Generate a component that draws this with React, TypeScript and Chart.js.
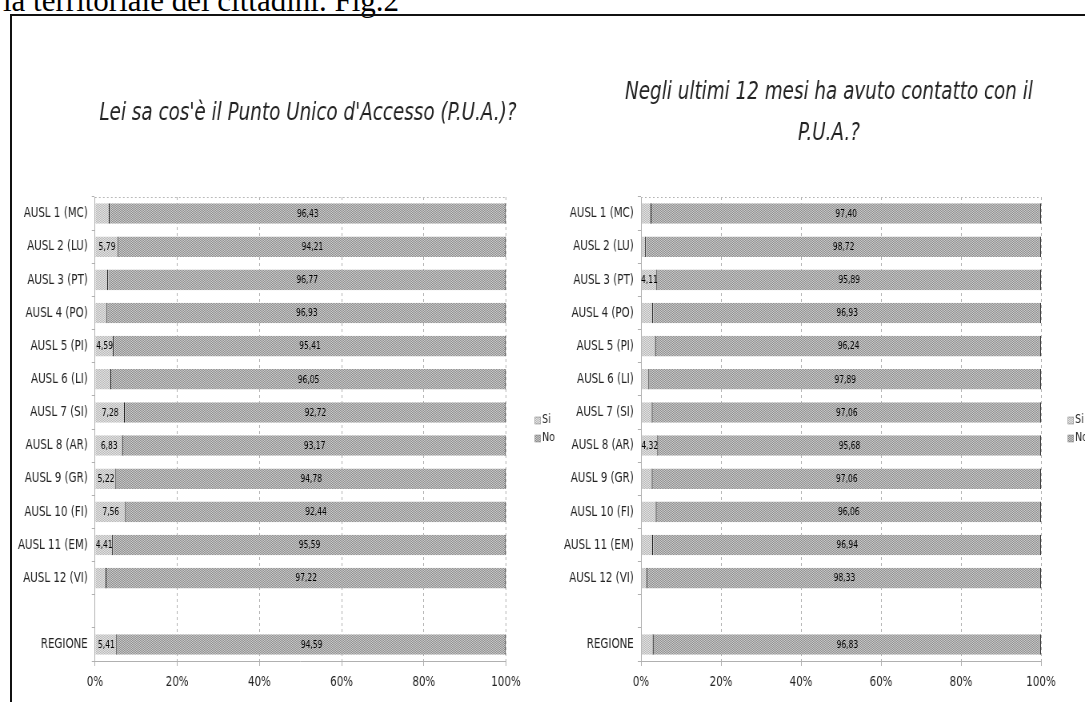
import React, { useEffect, useRef } from "react";
import { Chart, registerables } from "chart.js";

Chart.register(...registerables);

// ---- data ----
const categories = [
  "AUSL 1 (MC)",
  "AUSL 2 (LU)",
  "AUSL 3 (PT)",
  "AUSL 4 (PO)",
  "AUSL 5 (PI)",
  "AUSL 6 (LI)",
  "AUSL 7 (SI)",
  "AUSL 8 (AR)",
  "AUSL 9 (GR)",
  "AUSL 10 (FI)",
  "AUSL 11 (EM)",
  "AUSL 12 (VI)",
  "",
  "REGIONE",
];

const seriesNames = ["Si", "No"];

// "Lei sa cos'è il Punto Unico d'Accesso (P.U.A.)?"
const knowsSi = [3.57, 5.79, 3.23, 3.07, 4.59, 3.95, 7.28, 6.83, 5.22, 7.56, 4.41, 2.78, null, 5.41];
const knowsNo = [96.43, 94.21, 96.77, 96.93, 95.41, 96.05, 92.72, 93.17, 94.78, 92.44, 95.59, 97.22, null, 94.59];

// "Negli ultimi 12 mesi ha avuto contatto con il P.U.A.?"
const contactSi = [2.6, 1.28, 4.11, 3.07, 3.76, 2.11, 2.94, 4.32, 2.94, 3.94, 3.06, 1.67, null, 3.17];
const contactNo = [97.4, 98.72, 95.89, 96.93, 96.24, 97.89, 97.06, 95.68, 97.06, 96.06, 96.94, 98.33, null, 96.83];

const percentTicks = [0, 20, 40, 60, 80, 100];

const knowsTitle = ["Lei sa cos'è il Punto Unico d'Accesso (P.U.A.)?"];
const contactTitle = ["Negli ultimi 12 mesi ha avuto contatto con il", "P.U.A.?"];

const headerText = "la territoriale dei cittadini. Fig.2";

// Shares below this are left unlabelled (the segment is too narrow for text).
const MIN_LABELED_SHARE = 4;

// The canvases are drawn wider than they are shown, which gives the
// horizontally condensed lettering of the printed figure.
const SQUEEZE_X = 0.8;

const FONT = "'DejaVu Sans Condensed', 'DejaVu Sans', sans-serif";

const CANVAS_TOP = 16;
const CANVAS_HEIGHT = 686;
const PLOT_TOP = 197;

const formatShare = (v: number) => v.toFixed(2).replace(".", ",");

function dither(light: string, dark: string): CanvasPattern | string {
  const c = document.createElement("canvas");
  c.width = 2;
  c.height = 2;
  const g = c.getContext("2d");
  if (!g) return light;
  g.fillStyle = light;
  g.fillRect(0, 0, 2, 2);
  g.fillStyle = dark;
  g.fillRect(0, 0, 1, 1);
  g.fillRect(1, 1, 1, 1);
  return g.createPattern(c, "repeat") || light;
}

// Value labels centred in each segment.
const segmentLabels = {
  id: "segmentLabels",
  afterDatasetsDraw(chart: any) {
    const { ctx } = chart;
    ctx.save();
    ctx.font = `10.5px ${FONT}`;
    ctx.fillStyle = "#000";
    ctx.textAlign = "center";
    ctx.textBaseline = "middle";
    chart.data.datasets.forEach((ds: any, di: number) => {
      const meta = chart.getDatasetMeta(di);
      meta.data.forEach((bar: any, i: number) => {
        const v = ds.data[i];
        if (v == null || v < MIN_LABELED_SHARE) return;
        const { x, y, base } = bar.getProps(["x", "y", "base"], true);
        ctx.fillText(formatShare(v), (x + base) / 2, y + 0.5);
      });
    });
    ctx.restore();
  },
};

// Dotted top edge of the plot area.
const plotTopEdge = {
  id: "plotTopEdge",
  beforeDatasetsDraw(chart: any) {
    const { ctx, chartArea } = chart;
    ctx.save();
    ctx.strokeStyle = "#b4b4b4";
    ctx.lineWidth = 1;
    ctx.setLineDash([2, 3]);
    ctx.beginPath();
    ctx.moveTo(chartArea.left, Math.round(chartArea.top) + 0.5);
    ctx.lineTo(chartArea.right, Math.round(chartArea.top) + 0.5);
    ctx.stroke();
    ctx.restore();
  },
};

// Italic panel title, one or more centred lines.
const panelTitle = {
  id: "panelTitle",
  afterDraw(chart: any, _args: any, opts: any) {
    const { ctx } = chart;
    ctx.save();
    ctx.font = `italic 25.5px ${FONT}`;
    ctx.fillStyle = "#222";
    ctx.textAlign = "center";
    ctx.textBaseline = "middle";
    (opts.lines as string[]).forEach((line, i) => {
      ctx.fillText(line, opts.x, opts.ys[i]);
    });
    ctx.restore();
  },
};

// Compact legend to the right of the plot, centred vertically.
const sideLegend = {
  id: "sideLegend",
  afterDraw(chart: any, _args: any, opts: any) {
    const { ctx, chartArea } = chart;
    const x = opts.x;
    const mid = (chartArea.top + chartArea.bottom) / 2;
    const step = 18;
    const n = chart.data.datasets.length;
    ctx.save();
    ctx.font = `13px ${FONT}`;
    ctx.textBaseline = "middle";
    ctx.textAlign = "left";
    chart.data.datasets.forEach((ds: any, i: number) => {
      const y = Math.round(mid + (i - (n - 1) / 2) * step);
      ctx.fillStyle = ds.backgroundColor;
      ctx.fillRect(x, y - 3, 7, 7);
      ctx.strokeStyle = "#777";
      ctx.lineWidth = 0.5;
      ctx.strokeRect(x, y - 3, 7, 7);
      ctx.fillStyle = "#222";
      ctx.fillText(ds.label, x + 9, y);
    });
    ctx.restore();
  },
};

type PanelProps = {
  title: string[];
  titleYs: number[]; // page y of each title line centre
  titleCenter: number; // page x of the title centre
  si: (number | null)[];
  no: (number | null)[];
  left: number; // page x of the canvas
  width: number; // shown width of the canvas
  plotLeft: number; // page x of 0 %
  plotRight: number; // page x of 100 %
  legendX: number; // page x of the legend swatches
};

function StackedPanel(p: PanelProps) {
  const ref = useRef<HTMLCanvasElement | null>(null);
  const innerWidth = Math.round(p.width / SQUEEZE_X);
  const k = innerWidth / p.width;

  useEffect(() => {
    if (!ref.current) return;
    const siFill = dither("#e6e6e6", "#b6b6b6");
    const noFill = dither("#d0d0d0", "#8a8a8a");

    const chart = new Chart(ref.current, {
      type: "bar",
      data: {
        labels: categories,
        datasets: [
          {
            label: seriesNames[0],
            data: p.si,
            backgroundColor: siFill as any,
            borderColor: "#1a1a1a",
            borderWidth: { left: 0, top: 0, bottom: 0, right: 1.3 } as any,
            borderSkipped: false,
            categoryPercentage: 1,
            barPercentage: 0.62,
          },
          {
            label: seriesNames[1],
            data: p.no,
            backgroundColor: noFill as any,
            borderColor: "#333",
            borderWidth: { left: 0, top: 0, bottom: 0, right: 1.3 } as any,
            borderSkipped: false,
            categoryPercentage: 1,
            barPercentage: 0.62,
          },
        ],
      },
      options: {
        indexAxis: "y",
        animation: false,
        responsive: false,
        maintainAspectRatio: false,
        layout: {
          padding: {
            left: 0,
            right: (p.left + p.width - p.plotRight) * k,
            top: PLOT_TOP - CANVAS_TOP,
            bottom: 0,
          },
        },
        plugins: {
          legend: { display: false },
          tooltip: { enabled: false },
          title: { display: false },
          panelTitle: {
            lines: p.title,
            x: (p.titleCenter - p.left) * k,
            ys: p.titleYs.map((y) => y - CANVAS_TOP),
          },
          sideLegend: { x: (p.legendX - p.left) * k },
        } as any,
        scales: {
          x: {
            stacked: true,
            min: 0,
            max: 100,
            afterBuildTicks: (s: any) => {
              s.ticks = percentTicks.map((v) => ({ value: v }));
            },
            afterFit: (s: any) => {
              s.height = 41;
            },
            ticks: {
              callback: (v: any) => `${v}%`,
              font: { family: FONT, size: 14.3 },
              color: "#222",
              padding: 8,
              maxRotation: 0,
            },
            grid: { color: "#b0b0b0", lineWidth: 1, tickLength: 5, tickColor: "#b0b0b0" },
            border: { color: "#b0b0b0", dash: [3, 3] },
          },
          y: {
            stacked: true,
            afterFit: (s: any) => {
              s.width = (p.plotLeft - p.left) * k;
            },
            ticks: {
              font: { family: FONT, size: 14.3 },
              color: "#222",
              padding: 5,
              autoSkip: false,
            },
            grid: { drawOnChartArea: false, offset: true, tickLength: 4, color: "#b0b0b0" },
            border: { color: "#b0b0b0", dash: [2, 3] },
          },
        },
      },
      plugins: [segmentLabels, plotTopEdge, panelTitle, sideLegend],
    });
    return () => chart.destroy();
  }, []);

  return (
    <canvas
      ref={ref}
      width={innerWidth}
      height={CANVAS_HEIGHT}
      style={{ position: "absolute", left: p.left, top: CANVAS_TOP, width: p.width, height: CANVAS_HEIGHT }}
    />
  );
}

export default function App() {
  return (
    <div
      style={{
        position: "absolute",
        left: 0,
        top: 0,
        width: 1085,
        height: 702,
        overflow: "hidden",
        background: "#fff",
      }}
    >
      <div
        style={{
          position: "absolute",
          left: 3,
          top: -15,
          font: "31px 'Liberation Serif', 'Times New Roman', serif",
          lineHeight: "31px",
          color: "#000",
          whiteSpace: "nowrap",
        }}
      >
        {headerText}
      </div>
      <div
        style={{
          position: "absolute",
          left: 10,
          top: 14,
          width: 1200,
          height: 800,
          borderLeft: "2px solid #111",
          borderTop: "2px solid #111",
        }}
      />
      <StackedPanel
        title={knowsTitle}
        titleYs={[113]}
        titleCenter={308}
        si={knowsSi}
        no={knowsNo}
        left={12}
        width={580}
        plotLeft={95}
        plotRight={506}
        legendX={535}
      />
      <StackedPanel
        title={contactTitle}
        titleYs={[92, 133]}
        titleCenter={829}
        si={contactSi}
        no={contactNo}
        left={545}
        width={560}
        plotLeft={641}
        plotRight={1041}
        legendX={1068}
      />
    </div>
  );
}
